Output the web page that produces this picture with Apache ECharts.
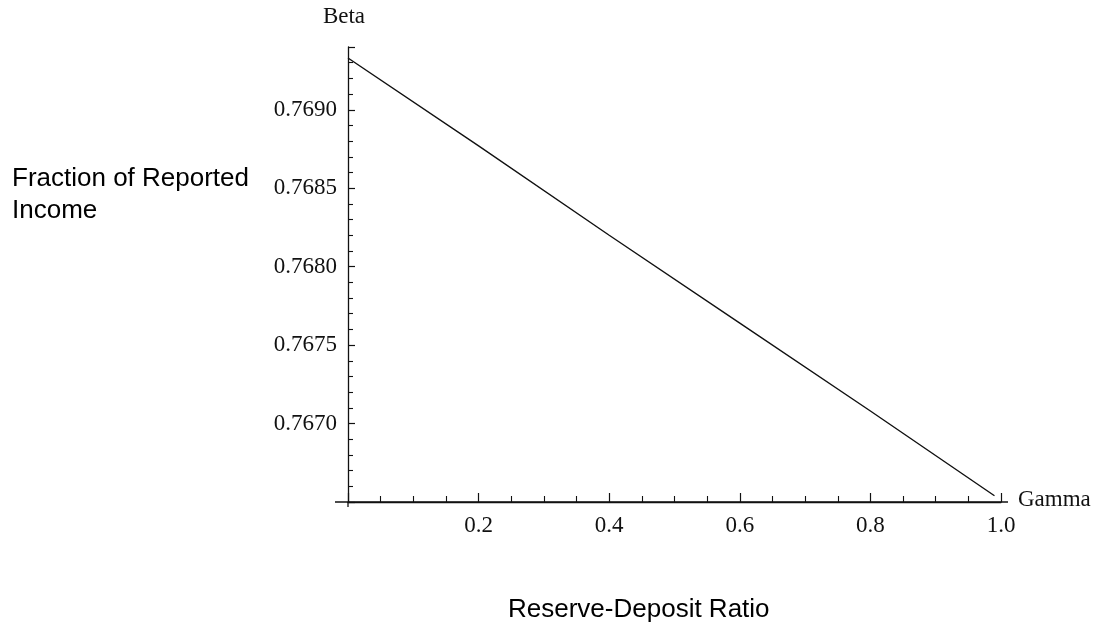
<!DOCTYPE html>
<html>
<head>
<meta charset="utf-8">
<script src="https://cdn.jsdelivr.net/npm/echarts@6/dist/echarts.min.js"></script>
<style>
html,body{margin:0;padding:0;background:#fff;}
#chart{width:1098px;height:630px;}
</style>
</head>
<body>
<div id="chart"></div>
<script>
// Data
var gammaValues = [0, 0.2, 0.4, 0.6, 0.8, 0.99];
var betaValues = [0.76933, 0.76877, 0.76820, 0.76764, 0.76708, 0.76654];
var xTickLabels = ['0.2', '0.4', '0.6', '0.8', '1.0'];
var yTickLabels = ['0.7670', '0.7675', '0.7680', '0.7685', '0.7690'];
var xAxisName = 'Gamma';
var yAxisName = 'Beta';
var xTitle = 'Reserve-Deposit Ratio';
var yTitle = 'Fraction of Reported\nIncome';

var points = gammaValues.map(function (g, i) { return [g, betaValues[i]]; });

var serif = '"Liberation Serif", "DejaVu Serif", serif';
var sans = '"Liberation Sans", Arial, sans-serif';
var ink = '#111';

var chart = echarts.init(document.getElementById('chart'), null, {renderer: 'canvas'});
chart.setOption({
  backgroundColor: '#fff',
  animation: false,
  grid: {left: 348, top: 47, right: 97, bottom: 128, containLabel: false},
  xAxis: {
    type: 'value',
    min: 0, max: 1, interval: 0.2,
    name: xAxisName,
    nameLocation: 'end',
    nameGap: 17,
    nameTextStyle: {fontFamily: serif, fontSize: 23, color: ink, align: 'left', verticalAlign: 'bottom', padding: [0, 0, -9, 0]},
    axisLine: {show: true, lineStyle: {color: ink, width: 1.3}},
    axisTick: {show: true, inside: true, length: 9, lineStyle: {color: ink, width: 1.2}},
    minorTick: {show: true, splitNumber: 4, length: 6, lineStyle: {color: ink, width: 1.1}},
    splitLine: {show: false},
    minorSplitLine: {show: false},
    axisLabel: {
      fontFamily: serif, fontSize: 23, color: ink, margin: 12,
      formatter: function (v) {
        var s = v.toFixed(1);
        return xTickLabels.indexOf(s) >= 0 ? s : '';
      }
    }
  },
  yAxis: {
    type: 'value',
    min: 0.7665, max: 0.7694, interval: 0.0005,
    name: yAxisName,
    nameLocation: 'end',
    nameGap: 19,
    nameTextStyle: {fontFamily: serif, fontSize: 23, color: ink, align: 'center', verticalAlign: 'bottom', padding: [0, 8, 0, 0]},
    axisLine: {show: true, lineStyle: {color: ink, width: 1.3}},
    axisTick: {show: true, inside: true, length: 7, lineStyle: {color: ink, width: 1.2}},
    minorTick: {show: true, splitNumber: 5, length: 5, lineStyle: {color: ink, width: 1.1}},
    splitLine: {show: false},
    minorSplitLine: {show: false},
    axisLabel: {
      fontFamily: serif, fontSize: 23, color: ink, margin: 11,
      formatter: function (v) {
        var s = v.toFixed(4);
        return yTickLabels.indexOf(s) >= 0 ? s : '';
      }
    }
  },
  series: [{
    type: 'line',
    data: points,
    showSymbol: false,
    symbol: 'none',
    lineStyle: {color: ink, width: 1.4},
    silent: true
  }],
  graphic: [
    {
      type: 'text', left: 12, top: 163,
      style: {text: yTitle, font: '26px ' + sans, fill: '#000', lineHeight: 32}
    },
    {
      type: 'text', left: 508, top: 597,
      style: {text: xTitle, font: '26px ' + sans, fill: '#000'}
    }
  ]
});

// Small axis-line overhangs, placed from the axes' own pixel scale
var origin = chart.convertToPixel({gridIndex: 0}, [0, 0.7665]);
var xEnd = chart.convertToPixel({gridIndex: 0}, [1, 0.7665]);
chart.setOption({
  graphic: [
    {
      type: 'text', left: 12, top: 163,
      style: {text: yTitle, font: '26px ' + sans, fill: '#000', lineHeight: 32}
    },
    {
      type: 'text', left: 508, top: 597,
      style: {text: xTitle, font: '26px ' + sans, fill: '#000'}
    },
    {
      type: 'line', silent: true,
      shape: {x1: origin[0] - 13, y1: origin[1], x2: xEnd[0] + 7, y2: xEnd[1]},
      style: {stroke: ink, lineWidth: 1.3}
    },
    {
      type: 'line', silent: true,
      shape: {x1: origin[0], y1: origin[1], x2: origin[0], y2: origin[1] + 5},
      style: {stroke: ink, lineWidth: 1.3}
    }
  ]
});
</script>
</body>
</html>
